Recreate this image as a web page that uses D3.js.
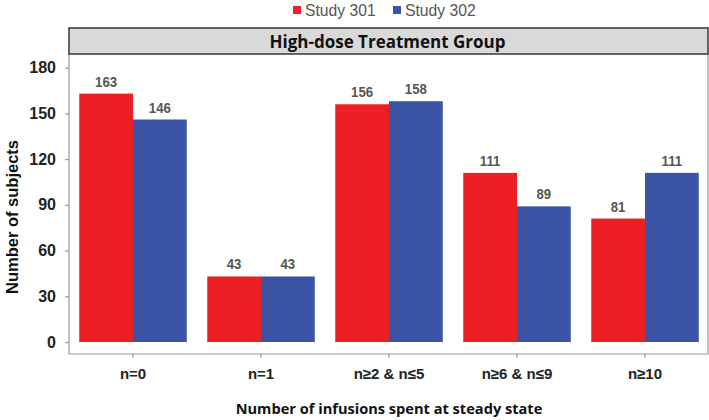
<!DOCTYPE html>
<html><head><meta charset="utf-8">
<script src="https://cdn.jsdelivr.net/npm/d3@7"></script>
<style>body{margin:0;background:#fff}svg{display:block}</style>
</head><body><svg id="c" width="709" height="420"></svg>
<script>
const categories = ["n=0", "n=1", "n\u22652 & n\u22645", "n\u22656 & n\u22649", "n\u226510"];
const seriesNames = ["Study 301", "Study 302"];
const study301 = [163, 43, 156, 111, 81];
const study302 = [146, 43, 158, 89, 111];
const yTicks = [0, 30, 60, 90, 120, 150, 180];
const colors = ["#ED1F24", "#3A53A4"];

const svg = d3.select("#c");
const L = 69, R = 708, T = 54, B = 354;
const x0 = d3.scaleBand().domain(categories).range([L, R + 1]).paddingInner(0.16).paddingOuter(0.08);
const x1 = d3.scaleBand().domain(seriesNames).range([0, x0.bandwidth()]);
const y = d3.scaleLinear().domain([0, 180]).range([342, 67.7]);

const data = categories.map((c, i) => ({cat: c, vals: [study301[i], study302[i]]}));

// plot frame
svg.append("path").attr("d", `M${L},${T}V${B}H${R}V${T}`).attr("fill", "none").attr("stroke", "#9a9a9a").attr("stroke-width", 1.2);

// bars
const g = svg.append("g");
data.forEach(d => {
  d.vals.forEach((v, j) => {
    const xx = x0(d.cat) + x1(seriesNames[j]);
    g.append("rect").attr("x", xx).attr("y", y(v)).attr("width", x1.bandwidth()).attr("height", y(0) - y(v)).attr("fill", colors[j]);
    g.append("text").attr("x", xx + x1.bandwidth() / 2).attr("y", y(v) - 7)
      .attr("text-anchor", "middle").attr("font-family", "Liberation Sans, Arial, sans-serif")
      .attr("font-weight", "bold").attr("font-size", 15).attr("fill", "#555")
      .attr("transform", `translate(${xx + x1.bandwidth() / 2},0) scale(0.88,1) translate(${-(xx + x1.bandwidth() / 2)},0)`)
      .text(v);
  });
});

// y axis
const ya = svg.append("g").attr("transform", `translate(${L},0)`).call(d3.axisLeft(y).tickValues(yTicks).tickSize(4).tickPadding(9));
ya.select(".domain").remove();
ya.selectAll(".tick line").attr("stroke", "#9a9a9a").attr("stroke-width", 1.2);
ya.selectAll("text").attr("font-family", "Liberation Sans, Arial, sans-serif").attr("font-weight", "bold").attr("font-size", 16).attr("fill", "#222");

// x axis
const xa = svg.append("g").attr("transform", `translate(0,${B})`).call(d3.axisBottom(x0).tickSize(4).tickPadding(10));
xa.select(".domain").remove();
xa.selectAll(".tick line").attr("stroke", "#9a9a9a").attr("stroke-width", 1.2);
xa.selectAll("text").attr("font-family", "Liberation Sans, Arial, sans-serif").attr("font-weight", "bold").attr("font-size", 15).attr("fill", "#222");

// strip
svg.append("rect").attr("x", L).attr("y", 28).attr("width", R - L).attr("height", T - 28)
  .attr("fill", "#d9d9d9").attr("stroke", "#404040").attr("stroke-width", 1.6);
svg.append("text").attr("x", (L + R) / 2 - 1).attr("y", 47.5).attr("text-anchor", "middle")
  .attr("font-family", "Open Sans, sans-serif").attr("font-weight", "bold").attr("font-size", 17).attr("fill", "#111")
  .text("High-dose Treatment Group");

// axis titles
svg.append("text").attr("transform", "translate(18,217) rotate(-90)").attr("text-anchor", "middle")
  .attr("font-family", "Liberation Sans, Arial, sans-serif").attr("font-weight", "bold").attr("font-size", 16.5).attr("fill", "#111")
  .text("Number of subjects");
svg.append("text").attr("x", 389).attr("y", 414).attr("text-anchor", "middle")
  .attr("font-family", "Open Sans, sans-serif").attr("font-weight", "bold").attr("font-size", 14.6).attr("fill", "#111")
  .text("Number of infusions spent at steady state");

// legend
const lg = svg.append("g");
const lx = [293, 393];
seriesNames.forEach((s, j) => {
  lg.append("rect").attr("x", lx[j]).attr("y", 6).attr("width", 8).attr("height", 8).attr("fill", colors[j]);
  lg.append("text").attr("x", lx[j] + 12).attr("y", 15.5).attr("font-family", "Liberation Sans, Arial, sans-serif")
    .attr("font-size", 15.7).attr("fill", "#555").text(s);
});
</script></body></html>
